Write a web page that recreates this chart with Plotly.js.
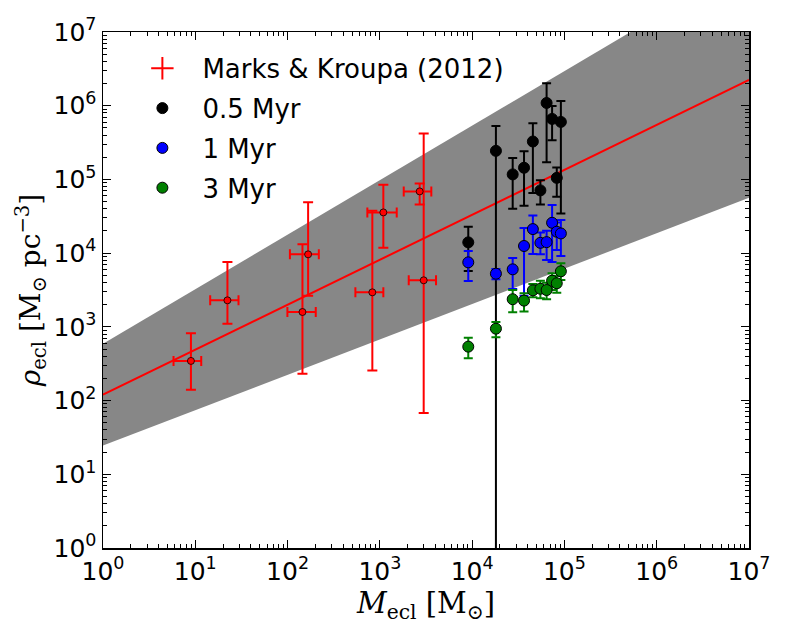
<!DOCTYPE html>
<html><head><meta charset="utf-8">
<script src="https://cdn.plot.ly/plotly-3.0.1.min.js"></script>
<style>html,body{margin:0;padding:0;background:#fff}</style>
</head><body><div id="chart" style="width:789px;height:631px"></div>
<script>
// Marks & Kroupa (2012) observed clusters
const mkMass   = [8.97, 22.3, 145, 167, 829, 1091, 2700, 2985];
const mkMassLo = [5.81, 14.5, 99.6, 106, 543, 732, 1814, 2055];
const mkMassHi = [11.6, 29.4, 202, 218, 1091, 1523, 3610, 4060];
const mkRho    = [345, 2290, 1590, 9630, 2940, 35700, 68800, 4280];
const mkRhoLo  = [140, 1105, 232, 2650, 255, 11800, 45800, 68];
const mkRhoHi  = [819, 7570, 13200, 49200, 37500, 84500, 88300, 420000];

// Simulated clusters
const simMass = [9080, 18100, 27500, 36500, 45500, 54900, 64100, 73500, 82600, 91500];
const rho05   = [14000, 244000, 117000, 144000, 327000, 71000, 1090000, 662000, 105000, 603000];
const rho05Lo = [5720, 0, 40000, 43900, 65200, 45800, 171000, 341000, 58100, 34600];
const rho05Hi = [22800, 532000, 196000, 242000, 579000, 97800, 2020000, 993000, 145000, 1160000];
const rho1    = [7500, 5260, 6030, 12500, 21200, 13800, 14100, 25800, 19500, 18500];
const rho1Lo  = [4190, 4420, 3260, 2650, 9720, 9640, 8060, 7570, 11000, 9140];
const rho1Hi  = [10700, 6090, 8590, 21900, 32500, 19100, 20100, 44900, 26100, 28100];
const rho3    = [539, 945, 2370, 2270, 3130, 3290, 3160, 4230, 3900, 5670];
const rho3Lo  = [375, 723, 1580, 1610, 2520, 2440, 2370, 3160, 2900, 4320];
const rho3Hi  = [714, 1165, 3160, 2850, 3810, 4230, 3970, 5320, 4900, 7280];

// Tick labels (decades)
const tickExponents = [0, 1, 2, 3, 4, 5, 6, 7];
const tickValues = tickExponents.map(e => Math.pow(10, e));
const tickLabels = tickExponents.map(e => '10<sup>' + e + '</sup>');

// Fit: log rho = slope * log M + intercept
const fitSlope = 0.61, fitSlopeErr = 0.13;
const fitIntercept = 2.08, fitInterceptErr = 0.69;
const fitMassRange = [1, 1e7];

const lg = v => Math.log10(v);
const fitLine = (m, a, b) => Math.pow(10, a * lg(m) + b);
const plus = (hi, v) => hi.map((h, i) => h - v[i]);
const minus = (lo, v) => lo.map((l, i) => v[i] - l);

const bandX = [fitMassRange[0], fitMassRange[1], fitMassRange[1], fitMassRange[0], fitMassRange[0]];
const bandY = [
  fitLine(fitMassRange[0], fitSlope + fitSlopeErr, fitIntercept + fitInterceptErr),
  fitLine(fitMassRange[1], fitSlope + fitSlopeErr, fitIntercept + fitInterceptErr),
  fitLine(fitMassRange[1], fitSlope - fitSlopeErr, fitIntercept - fitInterceptErr),
  fitLine(fitMassRange[0], fitSlope - fitSlopeErr, fitIntercept - fitInterceptErr),
  fitLine(fitMassRange[0], fitSlope + fitSlopeErr, fitIntercept + fitInterceptErr)
];

function simTrace(name, y, lo, hi, color, group) {
  return {
    type: 'scatter', mode: 'markers', name: name, x: simMass, y: y,
    legendgroup: group,
    marker: {color: color, size: 11, line: {color: '#000', width: 1}},
    error_y: {type: 'data', symmetric: false, array: plus(hi, y), arrayminus: minus(lo, y),
              color: color, thickness: 2, width: 4.5}
  };
}

const traces = [
  {type: 'scatter', mode: 'lines', x: bandX, y: bandY, fill: 'toself', fillcolor: '#878787',
   line: {width: 0, color: '#878787'}, hoverinfo: 'skip', showlegend: false},
  {type: 'scatter', mode: 'lines', x: fitMassRange, y: fitMassRange.map(m => fitLine(m, fitSlope, fitIntercept)),
   line: {color: '#ff0000', width: 2}, showlegend: false},
  {type: 'scatter', mode: 'markers', name: 'Marks &amp; Kroupa (2012)', x: mkMass, y: mkRho,
   showlegend: false,
   marker: {color: '#ff0000', size: 7, line: {color: '#000', width: 0.8}},
   error_x: {type: 'data', symmetric: false, array: plus(mkMassHi, mkMass), arrayminus: minus(mkMassLo, mkMass),
             color: '#ff0000', thickness: 2, width: 5},
   error_y: {type: 'data', symmetric: false, array: plus(mkRhoHi, mkRho), arrayminus: minus(mkRhoLo, mkRho),
             color: '#ff0000', thickness: 2, width: 5}},
  // legend proxy for the observed clusters (cross-shaped error bar glyph)
  {type: 'scatter', mode: 'markers', name: 'Marks &amp; Kroupa (2012)', x: [null], y: [null],
   legendgroup: 'a',
   marker: {symbol: 'cross-thin', size: 16, color: '#ff0000', line: {color: '#ff0000', width: 2}}},
  simTrace('0.5 Myr', rho05, rho05Lo, rho05Hi, '#000000', 'b'),
  simTrace('1 Myr', rho1, rho1Lo, rho1Hi, '#0000ff', 'c'),
  simTrace('3 Myr', rho3, rho3Lo, rho3Hi, '#008000', 'd')
];

const axisCommon = {
  type: 'log', tickmode: 'array', tickvals: tickValues, ticktext: tickLabels,
  showgrid: false, zeroline: false,
  showline: true, linecolor: '#000', linewidth: 1.5, mirror: 'allticks',
  ticks: 'inside', ticklen: 8, tickwidth: 1, tickcolor: '#000',
  minor: {ticks: 'inside', ticklen: 4, tickwidth: 1, tickcolor: '#000', showgrid: false, dtick: 'D1'},
  tickfont: {family: 'DejaVu Sans', size: 25, color: '#000'}
};

const layout = {
  width: 789, height: 631,
  margin: {l: 103, r: 40, t: 32, b: 83},
  paper_bgcolor: '#fff', plot_bgcolor: '#fff',
  showlegend: true,
  legend: {x: 0.03, y: 0.975, xanchor: 'left', yanchor: 'top', bgcolor: 'rgba(0,0,0,0)',
           font: {family: 'DejaVu Sans', size: 26, color: '#000'}, traceorder: 'grouped',
           tracegroupgap: 3, itemwidth: 70},
  xaxis: Object.assign({}, axisCommon, {range: [0, 7],
    title: {text: '<i>M</i><sub>ecl</sub> [M<sub>\u2299</sub>]', standoff: 8,
            font: {family: 'DejaVu Serif', size: 29, color: '#000'}}}),
  yaxis: Object.assign({}, axisCommon, {range: [0, 7],
    title: {text: '<i>\u03C1</i><sub>ecl</sub> [M<sub>\u2299</sub> pc<sup>\u22123</sup>]', standoff: 4,
            font: {family: 'DejaVu Serif', size: 28, color: '#000'}}})
};

Plotly.newPlot('chart', traces, layout, {displayModeBar: false, staticPlot: true});
</script></body></html>
